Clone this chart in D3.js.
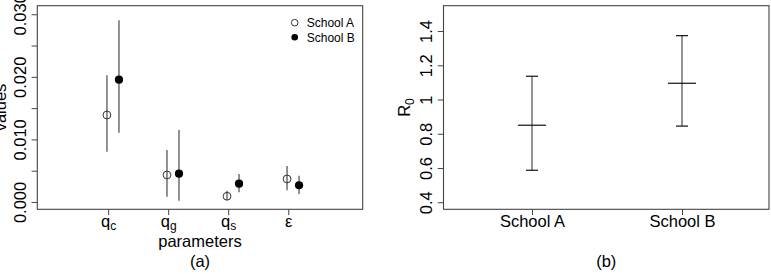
<!DOCTYPE html>
<html>
<head>
<meta charset="utf-8">
<script src="https://cdn.jsdelivr.net/npm/d3@7"></script>
<style>
  body { margin: 0; background: #fff; }
  svg { display: block; font-family: "Liberation Sans", Arial, sans-serif; }
  .tick line { stroke: #444; }
</style>
</head>
<body>
<svg id="chart" width="771" height="274"></svg>
<script>
// ---- panel (a) data ----
var paramBase = ['q', 'q', 'q', 'ε'],
    paramSub = ['c', 'g', 's', ''],
    schoolAVal = [0.0139, 0.00432, 0.00091, 0.00368],
    schoolALow = [0.00804, 0.00085, 0.0003, 0.00187],
    schoolAHigh = [0.02025, 0.00831, 0.0018, 0.00575],
    schoolBVal = [0.01955, 0.00453, 0.00293, 0.00267],
    schoolBLow = [0.01108, 0.0002, 0.00155, 0.00128],
    schoolBHigh = [0.02904, 0.01151, 0.00447, 0.0042],
    yTicksA = [0, 0.005, 0.01, 0.015, 0.02, 0.025, 0.03],
    yLabelsA = ['0.000', '', '0.010', '', '0.020', '', '0.030'];

// ---- panel (b) data ----
var schools = ['School A', 'School B'],
    r0Mid = [0.85, 1.095],
    r0Low = [0.587, 0.845],
    r0High = [1.136, 1.373],
    yTicksB = [0.4, 0.6, 0.8, 1, 1.2, 1.4],
    yLabelsB = ['0.4', '0.6', '0.8', '1', '1.2', '1.4'];

var svg = d3.select('#chart'),
    plotTop = 5.7, plotBottom = 209.3,
    fontSize = 16.5;

//---------------- panel (a) ----------------
var leftA = 37.3, rightA = 362.7;
var xA = d3.scaleLinear().domain([-0.18, 5.24]).range([leftA, rightA]),
    yA = d3.scaleLinear().domain([-0.00117, 0.03137]).range([plotBottom, plotTop]);

var gA = svg.append('g');

var axA = gA.append('g')
    .attr('transform', 'translate(' + leftA + ',0)')
    .call(d3.axisLeft(yA).tickValues(yTicksA).tickSize(5.7).tickSizeOuter(0)
        .tickFormat(function (d, i) { return yLabelsA[i]; }));
axA.select('.domain').remove();
axA.selectAll('text')
    .attr('x', 0).attr('dy', null)
    .attr('transform', 'translate(-11.8,0) rotate(-90)')
    .attr('text-anchor', 'middle')
    .attr('fill', '#000')
    .style('font-size', fontSize + 'px');

var axXA = gA.append('g')
    .attr('transform', 'translate(0,' + plotBottom + ')')
    .call(d3.axisBottom(xA).tickValues([1, 2, 3, 4]).tickSize(5.7).tickSizeOuter(0).tickFormat(''));
axXA.select('.domain').remove();
axXA.selectAll('.tick').each(function (d, i) {
    var t = d3.select(this).append('text')
        .attr('y', 17.5)
        .attr('text-anchor', 'middle')
        .attr('fill', '#000')
        .style('font-size', fontSize + 'px');
    t.append('tspan').text(paramBase[i]);
    if (paramSub[i]) {
        t.append('tspan').attr('dy', 3.5).style('font-size', '12px').text(paramSub[i]);
    }
});

// error bars
var offA = -0.02, offB = 0.18;
var idx = d3.range(paramBase.length);
gA.selectAll('.errA').data(idx).enter().append('line')
    .attr('x1', function (i) { return xA(i + 1 + offA); })
    .attr('x2', function (i) { return xA(i + 1 + offA); })
    .attr('y1', function (i) { return yA(schoolALow[i]); })
    .attr('y2', function (i) { return yA(schoolAHigh[i]); })
    .style('stroke', '#777').style('stroke-width', 1.6);
gA.selectAll('.errB').data(idx).enter().append('line')
    .attr('x1', function (i) { return xA(i + 1 + offB); })
    .attr('x2', function (i) { return xA(i + 1 + offB); })
    .attr('y1', function (i) { return yA(schoolBLow[i]); })
    .attr('y2', function (i) { return yA(schoolBHigh[i]); })
    .style('stroke', '#777').style('stroke-width', 1.6);

gA.selectAll('.ptA').data(idx).enter().append('circle')
    .attr('cx', function (i) { return xA(i + 1 + offA); })
    .attr('cy', function (i) { return yA(schoolAVal[i]); })
    .attr('r', 3.9)
    .style('fill', 'none').style('stroke', '#333').style('stroke-width', 1);
gA.selectAll('.ptB').data(idx).enter().append('circle')
    .attr('cx', function (i) { return xA(i + 1 + offB); })
    .attr('cy', function (i) { return yA(schoolBVal[i]); })
    .attr('r', 4.1)
    .style('fill', '#000');

gA.append('rect')
    .attr('x', leftA).attr('y', plotTop)
    .attr('width', rightA - leftA).attr('height', plotBottom - plotTop)
    .style('fill', 'none').style('stroke', '#444').style('stroke-width', 1.1);

// legend
var legend = gA.selectAll('.leg').data(schools).enter().append('g')
    .attr('transform', function (d, i) { return 'translate(294.7,' + (22.7 + i * 14.6) + ')'; });
legend.append('circle')
    .attr('r', 3.3)
    .style('fill', function (d, i) { return i ? '#000' : 'none'; })
    .style('stroke', function (d, i) { return i ? 'none' : '#333'; });
legend.append('text')
    .attr('x', 12).attr('dy', '0.36em')
    .style('font-size', '12px')
    .text(function (d) { return d; });

gA.append('text')
    .attr('transform', 'translate(6,' + ((plotTop + plotBottom) / 2) + ') rotate(-90)')
    .attr('text-anchor', 'middle')
    .style('font-size', fontSize + 'px')
    .text('values');
gA.append('text')
    .attr('x', (leftA + rightA) / 2).attr('y', 247)
    .attr('text-anchor', 'middle')
    .style('font-size', fontSize + 'px')
    .text('parameters');
gA.append('text')
    .attr('x', (leftA + rightA) / 2).attr('y', 267)
    .attr('text-anchor', 'middle')
    .style('font-size', fontSize + 'px')
    .text('(a)');

//---------------- panel (b) ----------------
var leftB = 443.5, rightB = 769;
var xB = d3.scaleLinear().domain([0.41, 2.58]).range([leftB, rightB]),
    yB = d3.scaleLinear().domain([0.359, 1.548]).range([plotBottom, plotTop]);

var gB = svg.append('g');

var axB = gB.append('g')
    .attr('transform', 'translate(' + leftB + ',0)')
    .call(d3.axisLeft(yB).tickValues(yTicksB).tickSize(5.7).tickSizeOuter(0)
        .tickFormat(function (d, i) { return yLabelsB[i]; }));
axB.select('.domain').remove();
axB.selectAll('text')
    .attr('x', 0).attr('dy', null)
    .attr('transform', 'translate(-11.3,0) rotate(-90)')
    .attr('text-anchor', 'middle')
    .attr('fill', '#000')
    .style('font-size', fontSize + 'px');

var axXB = gB.append('g')
    .attr('transform', 'translate(0,' + plotBottom + ')')
    .call(d3.axisBottom(xB).tickValues([1, 2]).tickSize(5.7).tickSizeOuter(0)
        .tickFormat(function (d, i) { return schools[i]; }));
axXB.select('.domain').remove();
axXB.selectAll('text')
    .attr('y', 18).attr('dy', null)
    .attr('fill', '#000')
    .style('font-size', fontSize + 'px');

var idxB = d3.range(schools.length);
gB.selectAll('.errR').data(idxB).enter().append('line')
    .attr('x1', function (i) { return xB(i + 1); })
    .attr('x2', function (i) { return xB(i + 1); })
    .attr('y1', function (i) { return yB(r0Low[i]); })
    .attr('y2', function (i) { return yB(r0High[i]); })
    .style('stroke', '#666').style('stroke-width', 1.4);
[r0Low, r0High].forEach(function (arr) {
    gB.selectAll(null).data(idxB).enter().append('line')
        .attr('x1', function (i) { return xB(i + 1) - 6; })
        .attr('x2', function (i) { return xB(i + 1) + 6; })
        .attr('y1', function (i) { return yB(arr[i]); })
        .attr('y2', function (i) { return yB(arr[i]); })
        .style('stroke', '#111').style('stroke-width', 1.2);
});
gB.selectAll('.mid').data(idxB).enter().append('line')
    .attr('x1', function (i) { return xB(i + 1) - 14; })
    .attr('x2', function (i) { return xB(i + 1) + 14; })
    .attr('y1', function (i) { return yB(r0Mid[i]); })
    .attr('y2', function (i) { return yB(r0Mid[i]); })
    .style('stroke', '#111').style('stroke-width', 1.2);

gB.append('rect')
    .attr('x', leftB).attr('y', plotTop)
    .attr('width', rightB - leftB).attr('height', plotBottom - plotTop)
    .style('fill', 'none').style('stroke', '#444').style('stroke-width', 1.1);

var r0 = gB.append('text')
    .attr('transform', 'translate(410,' + ((plotTop + plotBottom) / 2) + ') rotate(-90)')
    .attr('text-anchor', 'middle')
    .style('font-size', fontSize + 'px');
r0.append('tspan').text('R');
r0.append('tspan').attr('dy', 3.5).style('font-size', '12px').text('0');

gB.append('text')
    .attr('x', (leftB + rightB) / 2).attr('y', 266.5)
    .attr('text-anchor', 'middle')
    .style('font-size', fontSize + 'px')
    .text('(b)');
</script>
</body>
</html>
